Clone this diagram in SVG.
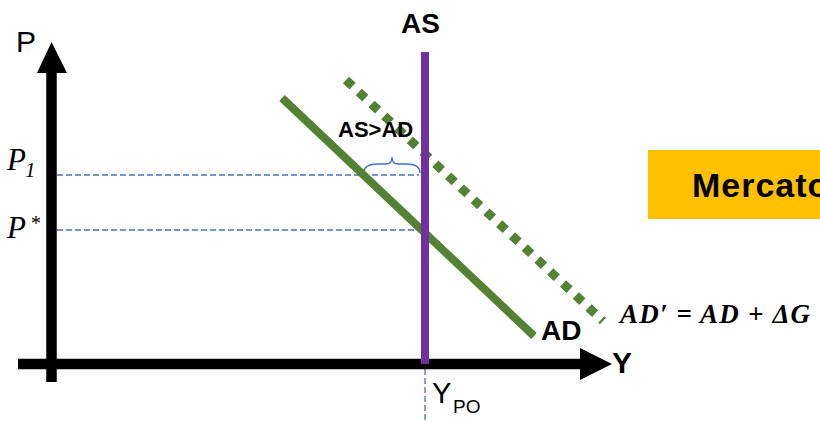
<svg xmlns="http://www.w3.org/2000/svg" width="820" height="422" viewBox="0 0 820 422">
<style>
.axis{stroke:#000;stroke-width:10.5;fill:none}
.head{fill:#000}
.guide{stroke:#4472C4;stroke-width:1.3;stroke-dasharray:6 3;fill:none}
.ad{stroke:#548235;stroke-width:8;fill:none}
.adp{stroke:#548235;stroke-width:9;stroke-dasharray:9 8.5;fill:none}
.as{stroke:#7030A0;stroke-width:8;fill:none}
.lbl{font-family:"Liberation Sans",Arial,sans-serif;fill:#000}
.b{font-weight:bold}
.math{font-family:"Liberation Serif","Times New Roman",serif;font-style:italic;fill:#000}
</style>
<rect width="820" height="422" fill="#fff"/>
<g id="connectors">
<line class="guide" x1="57" y1="175" x2="419" y2="175"/>
<line class="guide" x1="57" y1="230" x2="419" y2="230"/>
<line class="guide" x1="425" y1="369" x2="425" y2="422"/>
<path d="M363.5,173 Q364,164 378,164 L386,164 Q392,164 392,157 Q392,164 398,164 L406,164 Q420,164 420,173" stroke="#4472C4" stroke-width="1.4" fill="none"/>
</g>
<g id="axis-P">
<line class="axis" x1="51.5" y1="70" x2="51.5" y2="382"/>
<polygon class="head" points="51.5,42 37,73 67,73"/>
<text class="lbl" x="16" y="52" font-size="30">P</text>
</g>
<g id="axis-Y">
<line class="axis" x1="18" y1="364" x2="584" y2="364"/>
<polygon class="head" points="612,364 580,348 580,380"/>
<text class="lbl b" x="612" y="373" font-size="30">Y</text>
</g>
<g id="curve-AD">
<line class="ad" x1="282" y1="98" x2="534" y2="336"/>
<text class="lbl b" x="541" y="340" font-size="28">AD</text>
</g>
<g id="curve-ADprime">
<line class="adp" x1="346" y1="80" x2="603" y2="321"/>
<text class="math" x="620" y="323" font-size="27" font-weight="bold" textLength="190" lengthAdjust="spacing">AD′ = AD + ΔG</text>
</g>
<g id="curve-AS">
<line class="as" x1="425" y1="52" x2="425" y2="364"/>
<text class="lbl b" x="401" y="33" font-size="28">AS</text>
</g>
<g id="gap-label">
<text class="lbl b" x="338" y="137" font-size="22">AS&gt;AD</text>
</g>
<g id="label-P1">
<text class="math" x="7" y="170" font-size="31">P</text>
<text class="math" x="25" y="177" font-size="21" font-style="normal">1</text>
</g>
<g id="label-Pstar">
<text class="math" x="7" y="238" font-size="31">P</text>
<text class="math" x="30" y="230" font-size="20" font-style="normal">*</text>
</g>
<g id="label-YPO">
<text class="lbl" x="432" y="403" font-size="29">Y</text>
<text class="lbl" x="453" y="413" font-size="19">PO</text>
</g>
<g id="box-mercato">
<rect x="648" y="150" width="180" height="69" fill="#FFC000"/>
<text class="lbl b" x="692" y="197" font-size="34" letter-spacing="1">Mercato</text>
</g>
</svg>
